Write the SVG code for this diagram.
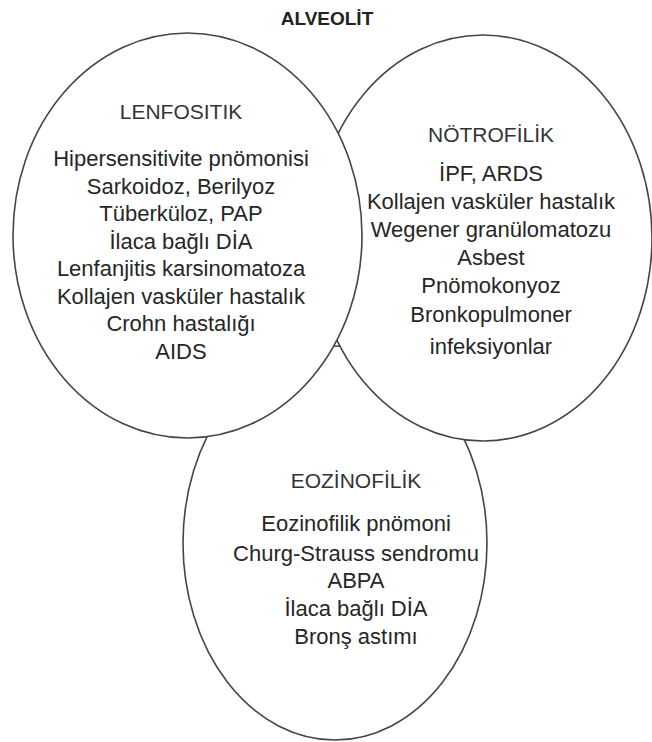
<svg xmlns="http://www.w3.org/2000/svg" width="652" height="742" viewBox="0 0 652 742">
<style>
.bg{fill:#ffffff}
.ell{fill:#ffffff;stroke:#454545;stroke-width:1.6}
.title{font-family:"Liberation Sans",Arial,sans-serif;font-size:19px;font-weight:bold;fill:#222;text-anchor:middle}
.head{font-family:"Liberation Sans",Arial,sans-serif;font-size:21px;fill:#333;text-anchor:middle}
.body{font-family:"Liberation Sans",Arial,sans-serif;font-size:22px;fill:#262626;text-anchor:middle}
</style>
<rect class="bg" x="0" y="0" width="652" height="742"/>
<text class="title" x="327" y="25">ALVEOLİT</text>
<g id="eozinofilik">
<ellipse class="ell" cx="335" cy="543" rx="152" ry="197"/>
</g>
<g id="notrofilik">
<ellipse class="ell" cx="483" cy="238" rx="169" ry="203"/>
</g>
<g id="lenfositik">
<ellipse class="ell" cx="187.5" cy="235.5" rx="174.5" ry="202.5"/>
<text class="head" x="181" y="119">LENFOSITIK</text>
<text class="body" x="181" y="166">Hipersensitivite pnömonisi</text>
<text class="body" x="181" y="193.5">Sarkoidoz, Berilyoz</text>
<text class="body" x="181" y="221">Tüberküloz, PAP</text>
<text class="body" x="181" y="248.5">İlaca bağlı DİA</text>
<text class="body" x="181" y="276">Lenfanjitis karsinomatoza</text>
<text class="body" x="181" y="303.5">Kollajen vasküler hastalık</text>
<text class="body" x="181" y="331">Crohn hastalığı</text>
<text class="body" x="181" y="358.5">AIDS</text>
</g>
<g id="notrofilik-text">
<text class="head" x="491" y="142">NÖTROFİLİK</text>
<text class="body" x="491" y="181">İPF, ARDS</text>
<text class="body" x="491" y="208.5">Kollajen vasküler hastalık</text>
<text class="body" x="491" y="236.5">Wegener granülomatozu</text>
<text class="body" x="491" y="264.5">Asbest</text>
<text class="body" x="491" y="292.5">Pnömokonyoz</text>
<text class="body" x="491" y="322">Bronkopulmoner</text>
<text class="body" x="491" y="354">infeksiyonlar</text>
</g>
<g id="eozinofilik-text">
<text class="head" x="356" y="488">EOZİNOFİLİK</text>
<text class="body" x="356" y="531">Eozinofilik pnömoni</text>
<text class="body" x="356" y="561">Churg-Strauss sendromu</text>
<text class="body" x="356" y="588">ABPA</text>
<text class="body" x="356" y="616">İlaca bağlı DİA</text>
<text class="body" x="356" y="644">Bronş astımı</text>
</g>
</svg>
